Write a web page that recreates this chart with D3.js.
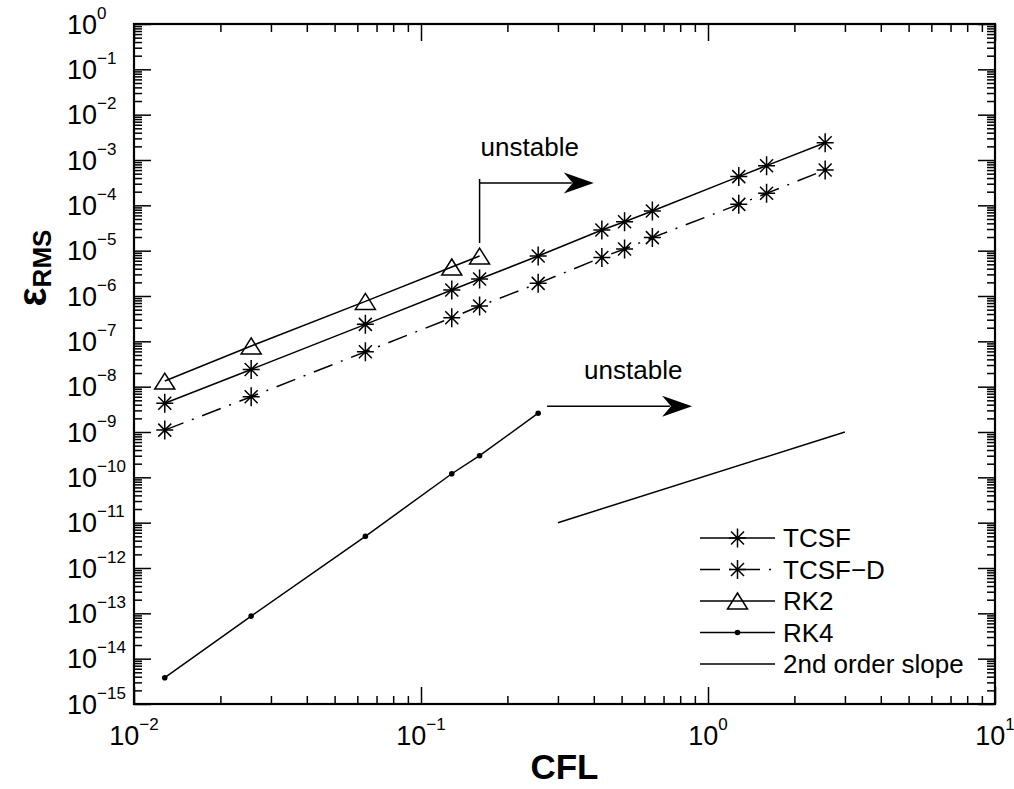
<!DOCTYPE html>
<html>
<head>
<meta charset="utf-8">
<script src="https://cdn.jsdelivr.net/npm/d3@7"></script>
<style>
  body { margin: 0; background: #fff; }
  text { font-family: "Liberation Sans", Arial, sans-serif; fill: #000; }
</style>
</head>
<body>
<script>
// data
var cfl = [0.0128, 0.0256, 0.064, 0.128, 0.16, 0.256, 0.4267, 0.512, 0.64, 1.28, 1.6, 2.56];
var tcsf = [4.3e-9, 2.4e-8, 2.37e-7, 1.36e-6, 2.37e-6, 7.6e-6, 2.86e-5, 4.35e-5, 7.5e-5, 4.3e-4, 7.5e-4, 2.4e-3];
var tcsfD = [1.1e-9, 6.0e-9, 5.9e-8, 3.3e-7, 6.0e-7, 1.9e-6, 7.1e-6, 1.09e-5, 1.94e-5, 1.05e-4, 1.84e-4, 6.0e-4];
var cflRK2 = [0.0128, 0.0256, 0.064, 0.128, 0.16];
var rk2 = [1.33e-8, 7.9e-8, 7.6e-7, 4.36e-6, 7.6e-6];
var cflRK4 = [0.0128, 0.0256, 0.064, 0.128, 0.16, 0.256];
var rk4 = [3.8e-15, 8.7e-14, 5.0e-12, 1.2e-10, 3.0e-10, 2.6e-9];
var slopeX = [0.3, 3];
var slopeY = [1e-11, 1e-9];
var xExp = [-2, -1, 0, 1];
var yExp = d3.range(0, -16, -1);
var legendLabels = ['TCSF', 'TCSF\u2212D', 'RK2', 'RK4', '2nd order slope'];

var margin = { top: 24, right: 19, bottom: 85, left: 134 };
var width = 1014 - margin.left - margin.right;
var height = 789 - margin.top - margin.bottom;

var svg = d3.select('body').append('svg')
  .attr('width', 1014)
  .attr('height', 789);

var g = svg.append('g')
  .attr('transform', `translate(${margin.left}, ${margin.top})`);

var xScale = d3.scaleLog().domain([1e-2, 1e1]).range([0, width]);
var yScale = d3.scaleLog().domain([1e-15, 1]).range([height, 0]);

function minors(e0, e1) {
  var out = [];
  for (var e = e0; e < e1; e++) {
    for (var k = 2; k < 10; k++) out.push(k * Math.pow(10, e));
  }
  return out;
}
var xMajor = xExp.map(function(e) { return Math.pow(10, e); });
var yMajor = yExp.map(function(e) { return Math.pow(10, e); });

// ticks, all pointing inward
function ticks(axis, vals, size, tr) {
  var a = g.append('g')
    .attr('transform', tr)
    .call(axis.tickValues(vals).tickSize(-size).tickFormat(''));
  a.select('.domain').remove();
  a.selectAll('line').attr('stroke', '#000').attr('stroke-width', 1.5);
}
ticks(d3.axisBottom(xScale), xMajor, 17, `translate(0, ${height})`);
ticks(d3.axisBottom(xScale), minors(-2, 1), 8, `translate(0, ${height})`);
ticks(d3.axisTop(xScale), xMajor, 17, 'translate(0, 0)');
ticks(d3.axisTop(xScale), minors(-2, 1), 8, 'translate(0, 0)');
ticks(d3.axisLeft(yScale), yMajor, 17, 'translate(0, 0)');
ticks(d3.axisLeft(yScale), minors(-15, 0), 8, 'translate(0, 0)');
ticks(d3.axisRight(yScale), yMajor, 17, `translate(${width}, 0)`);
ticks(d3.axisRight(yScale), minors(-15, 0), 8, `translate(${width}, 0)`);

g.append('rect')
  .attr('width', width)
  .attr('height', height)
  .attr('fill', 'none')
  .attr('stroke', '#000')
  .attr('stroke-width', 2.2);

function supText(sel, e) {
  sel.append('tspan').text('10');
  sel.append('tspan')
    .attr('dy', -15)
    .style('font-size', '17px')
    .text(e < 0 ? '\u2212' + (-e) : e);
}

// tick labels
g.selectAll('.ylab')
  .data(yExp)
  .enter().append('text')
  .attr('class', 'ylab')
  .attr('x', 67 - margin.left)
  .attr('y', function(d) { return yScale(Math.pow(10, d)) + 9.5; })
  .style('font-size', '27px')
  .each(function(d) { supText(d3.select(this), d); });

g.selectAll('.xlab')
  .data(xExp)
  .enter().append('text')
  .attr('class', 'xlab')
  .attr('x', function(d) { return xScale(Math.pow(10, d)); })
  .attr('y', height + 41)
  .attr('text-anchor', 'middle')
  .style('font-size', '27px')
  .each(function(d) { supText(d3.select(this), d); });

// axis titles
g.append('text')
  .attr('x', width / 2)
  .attr('y', height + 75)
  .attr('text-anchor', 'middle')
  .style('font-size', '35px')
  .style('font-weight', 'bold')
  .text('CFL');

var yTitle = svg.append('text')
  .attr('transform', 'translate(46, 268) rotate(-90)')
  .attr('text-anchor', 'middle')
  .style('font-weight', 'bold');
yTitle.append('tspan').style('font-size', '40px').text('\u03b5');
yTitle.append('tspan').attr('dy', 5).style('font-size', '26px').text('RMS');

// series
var line = d3.line()
  .x(function(d) { return xScale(d[0]); })
  .y(function(d) { return yScale(d[1]); });

function pairs(xs, ys) { return xs.map(function(v, i) { return [v, ys[i]]; }); }

var starPath = 'M0,-9.5L0,9.5M-8.5,0L8.5,0M-6.5,-6.5L6.5,6.5M-6.5,6.5L6.5,-6.5';
var triPath = 'M0,-8L10,8L-10,8Z';

var series = [
  { data: pairs(cfl, tcsf), dash: null, marker: 'star' },
  { data: pairs(cfl, tcsfD), dash: '20,9,2,9', marker: 'star' },
  { data: pairs(cflRK2, rk2), dash: null, marker: 'tri' },
  { data: pairs(cflRK4, rk4), dash: null, marker: 'dot' },
  { data: pairs(slopeX, slopeY), dash: null, marker: null }
];

function drawMarker(sel, type) {
  if (type === 'star') {
    sel.append('path').attr('d', starPath)
      .attr('stroke', '#000').attr('stroke-width', 1.5).attr('fill', 'none');
  } else if (type === 'tri') {
    sel.append('path').attr('d', triPath)
      .attr('stroke', '#000').attr('stroke-width', 1.5).attr('fill', 'none');
  } else if (type === 'dot') {
    sel.append('circle').attr('r', 2.8).attr('fill', '#000');
  }
}

series.forEach(function(s) {
  g.append('path')
    .datum(s.data)
    .attr('fill', 'none')
    .attr('stroke', '#000')
    .attr('stroke-width', 1.5)
    .attr('stroke-dasharray', s.dash)
    .attr('d', line);

  g.selectAll(null)
    .data(s.marker ? s.data : [])
    .enter().append('g')
    .attr('transform', function(d) { return `translate(${xScale(d[0])}, ${yScale(d[1])})`; })
    .each(function() { drawMarker(d3.select(this), s.marker); });
});

// "unstable" annotations
function arrowHead(px, py) {
  g.append('path')
    .attr('d', `M${px},${py}L${px - 30},${py - 10.5}L${px - 21},${py}L${px - 30},${py + 10.5}Z`)
    .attr('fill', '#000');
}

var a1x = xScale(0.16), a1y = yScale(3.1e-4), a1tip = xScale(0.4);
g.append('path')
  .attr('d', `M${a1x},${yScale(7.6e-6) - 13}L${a1x},${a1y - 4}M${a1x},${a1y}L${a1tip - 22},${a1y}`)
  .attr('stroke', '#000').attr('stroke-width', 1.5).attr('fill', 'none');
arrowHead(a1tip, a1y);
g.append('text')
  .attr('x', a1x + 1).attr('y', a1y - 27)
  .style('font-size', '26px')
  .text('unstable');

var a2x = xScale(0.275), a2y = yScale(3.7e-9), a2tip = xScale(0.88);
g.append('path')
  .attr('d', `M${a2x},${a2y}L${a2tip - 22},${a2y}`)
  .attr('stroke', '#000').attr('stroke-width', 1.5);
arrowHead(a2tip, a2y);
g.append('text')
  .attr('x', xScale(0.37)).attr('y', a2y - 27)
  .style('font-size', '26px')
  .text('unstable');

// legend
var legend = g.selectAll('.legend')
  .data(legendLabels)
  .enter().append('g')
  .attr('class', 'legend')
  .attr('transform', function(d, i) { return `translate(${700 - margin.left}, ${538 - margin.top + i * 31.5})`; });

legend.append('line')
  .attr('x1', 0).attr('x2', 75)
  .attr('stroke', '#000').attr('stroke-width', 1.5)
  .attr('stroke-dasharray', function(d, i) { return series[i].dash; });

legend.append('g')
  .attr('transform', 'translate(37.5, 0)')
  .each(function(d, i) { drawMarker(d3.select(this), series[i].marker); });

legend.append('text')
  .attr('x', 83).attr('y', 9)
  .style('font-size', '26px')
  .text(function(d) { return d; });
</script>
</body>
</html>
